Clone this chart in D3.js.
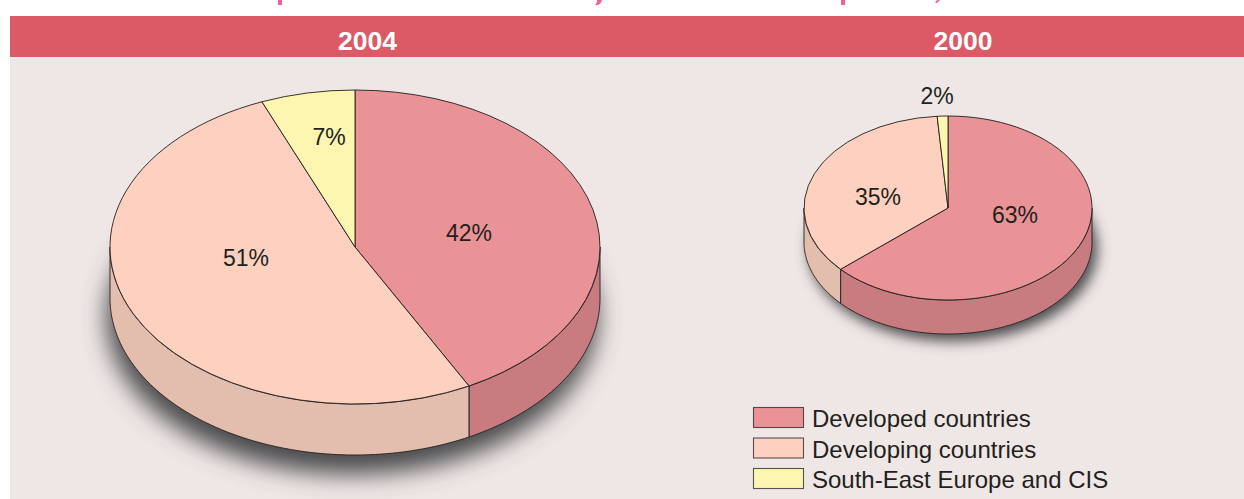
<!DOCTYPE html>
<html><head><meta charset="utf-8">
<script src="https://cdn.jsdelivr.net/npm/d3@7"></script>
<style>html,body{margin:0;padding:0;background:#fff}svg{display:block}text{font-family:"Liberation Sans",Arial,sans-serif;fill:#231f20}</style>
</head><body><div id="chart"></div>
<script>
const categories = ["Developed countries", "Developing countries", "South-East Europe and CIS"];
const years = ["2004", "2000"];
const shares2004 = [42.3, 51.5, 6.2];
const shares2000 = [63.4, 35.4, 1.2];
const labels2004 = ["42%", "51%", "7%"];
const labels2000 = ["63%", "35%", "2%"];

const topColors = ["#ea9396", "#fdd0bf", "#fdf6b0"];
const sideColors = ["#c97c80", "#e3bdae", "#d8d296"];

const W = 1244, H = 499;
const svg = d3.select("#chart").append("svg").attr("width", W).attr("height", H);
const defs = svg.append("defs");

svg.append("rect").attr("x", 10).attr("y", 57).attr("width", W - 10).attr("height", H - 57).attr("fill", "#efe7e6");
svg.append("rect").attr("x", 10).attr("y", 16).attr("width", W - 10).attr("height", 41).attr("fill", "#dc5966");

// clipped remnants of the heading cut off by the crop at the top edge
svg.append("g").attr("fill", "#f0609a").selectAll("path")
  .data(["M278,0h4v5h-4z", "M597,0h5q-1,5-6,5l-1,-1q2,0,2,-4z", "M841,0h4v5h-4z", "M937,0h3l-3,3h-2z"])
  .join("path").attr("d", d => d);

const layouts = [
  { title: years[0], titleX: 367.5, values: shares2004, labels: labels2004, cx: 355, cy: 247, rx: 245, ry: 157, depth: 51,
    shadow: { dx: -3, dy: 19, blur: 12 }, labelAt: [[469, 233], [246, 258], [329, 137]] },
  { title: years[1], titleX: 963, values: shares2000, labels: labels2000, cx: 948, cy: 208, rx: 144, ry: 92, depth: 34,
    shadow: { dx: 5, dy: 7, blur: 7 }, labelAt: [[1015, 215], [878, 197], [937, 96]] }
];

const pie = d3.pie().sort(null).value(d => d);
const unitR = 100;
const arc = d3.arc().innerRadius(0).outerRadius(unitR);

layouts.forEach((p, i) => {
  svg.append("text").attr("x", p.titleX).attr("y", 50).attr("text-anchor", "middle")
    .attr("font-size", 26.5).attr("font-weight", 700).style("fill", "#fff").text(p.title);

  const x = d3.scaleLinear().domain([-1, 1]).range([p.cx - p.rx, p.cx + p.rx]);
  const y = d3.scaleLinear().domain([-1, 1]).range([p.cy - p.ry, p.cy + p.ry]);
  const slices = pie(p.values);
  const rim = d3.line().x(d => x(Math.sin(d))).y(d => y(-Math.cos(d)));
  const rimLow = d3.line().x(d => x(Math.sin(d))).y(d => y(-Math.cos(d)) + p.depth);
  const g = svg.append("g");

  // soft drop shadow
  const fid = "blur" + i;
  defs.append("filter").attr("id", fid).attr("x", "-20%").attr("y", "-30%").attr("width", "140%").attr("height", "160%")
    .append("feGaussianBlur").attr("stdDeviation", p.shadow.blur);
  const full = d3.range(0, 2 * Math.PI + 0.02, 0.02);
  g.append("path").attr("d", rimLow(full) + "Z")
    .attr("transform", `translate(${p.shadow.dx},${p.shadow.dy})`)
    .attr("fill", "#4a4a4c").attr("filter", `url(#${fid})`);

  // front walls
  const lo = Math.PI / 2, hi = 3 * Math.PI / 2;
  slices.forEach((s, k) => {
    const a0 = Math.max(s.startAngle, lo), a1 = Math.min(s.endAngle, hi);
    if (a1 <= a0) return;
    const angles = d3.range(a0, a1, 0.01).concat([a1]);
    const d = rim(angles) + "L" + rimLow(angles.slice().reverse()).slice(1) + "Z";
    g.append("path").attr("d", d).attr("fill", sideColors[k])
      .attr("stroke", "#231f20").attr("stroke-width", 1).attr("stroke-opacity", 0.9).attr("stroke-linejoin", "round");
  });

  // top face
  g.append("g").attr("transform", `translate(${p.cx},${p.cy}) scale(${p.rx / unitR},${p.ry / unitR})`)
    .selectAll("path").data(slices).join("path")
    .attr("d", arc).attr("fill", (d, k) => topColors[k])
    .attr("stroke", "#231f20").attr("stroke-width", 1).attr("stroke-opacity", 0.9).attr("stroke-linejoin", "round")
    .attr("vector-effect", "non-scaling-stroke");

  g.selectAll("text").data(p.labels).join("text")
    .attr("x", (d, k) => p.labelAt[k][0]).attr("y", (d, k) => p.labelAt[k][1])
    .attr("dy", "0.35em").attr("text-anchor", "middle").attr("font-size", 23).text(d => d);
});

// legend
const legendY = d3.scalePoint().domain(categories).range([407, 468]);
const legend = svg.append("g").selectAll("g").data(categories).join("g")
  .attr("transform", d => `translate(753,${legendY(d)})`);
legend.append("rect").attr("x", 0.5).attr("y", 0.5).attr("width", 50).attr("height", 20)
  .attr("fill", (d, k) => topColors[k]).attr("stroke", "#231f20").attr("stroke-opacity", 0.75).attr("stroke-width", 1.1);
legend.append("text").attr("x", 59).attr("y", 20).attr("font-size", 24).text(d => d);
</script></body></html>
